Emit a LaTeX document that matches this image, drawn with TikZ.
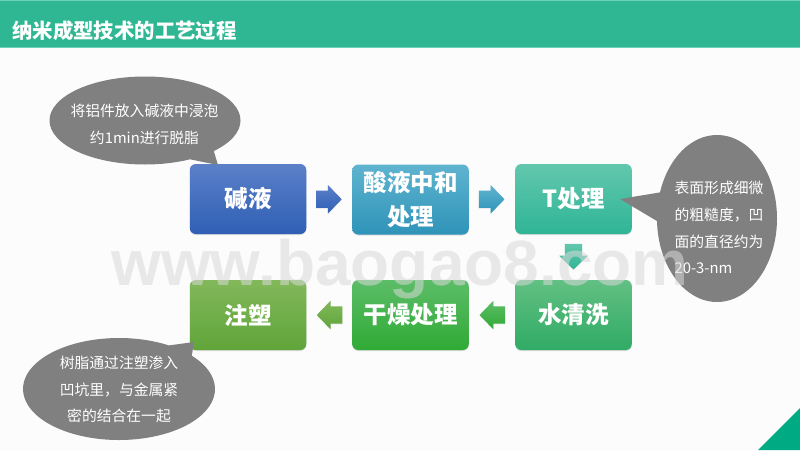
\documentclass[tikz,border=0pt]{standalone}
\usepackage{fontspec}
\setmainfont{Noto Sans CJK SC}
\newfontfamily\wmfont{Liberation Sans}
\usetikzlibrary{shapes.arrows,shapes.callouts,calc,shadows}
\definecolor{bgc}{HTML}{FCFCFC}
\definecolor{barc}{HTML}{2FB794}
\definecolor{barl}{HTML}{6FD0B8}
\definecolor{cornerc}{HTML}{00AB84}
\definecolor{calloutc}{HTML}{808080}
\definecolor{at}{RGB}{91,128,200}\definecolor{ab}{RGB}{47,95,181}
\definecolor{bt}{RGB}{95,180,207}\definecolor{bb}{RGB}{47,147,185}
\definecolor{ct}{RGB}{98,199,173}\definecolor{cb}{RGB}{47,181,150}
\definecolor{dt}{RGB}{98,192,131}\definecolor{db}{RGB}{48,171,101}
\definecolor{et}{RGB}{92,189,104}\definecolor{eb}{RGB}{48,170,53}
\definecolor{ft}{RGB}{130,184,90}\definecolor{fb}{RGB}{96,165,58}
\tikzset{
  x=1pt,y=-1pt,
  flowbox/.style={rounded corners=6pt,minimum width=116.5pt,minimum height=70pt,inner sep=0pt,
    text=white,align=center,font=\fontsize{23.5}{34}\selectfont\bfseries,
    drop shadow={shadow xshift=0pt,shadow yshift=-1pt,opacity=.25,fill=black!50}},
  flowarrow/.style={single arrow,minimum height=25.5pt,inner sep=0pt,
    single arrow head extend=5.5pt,single arrow tip angle=92,
    drop shadow={shadow xshift=0pt,shadow yshift=-.6pt,opacity=.2,fill=black!50}},
  bubble/.style={ellipse callout,fill=calloutc,inner sep=0pt},
  bubbletext/.style={text=white,font=\fontsize{14.8}{26.7}\selectfont,inner sep=0pt},
}
\begin{document}
\begin{tikzpicture}
\useasboundingbox (0,0) rectangle (800,450);
\fill[bgc] (0,0) rectangle (800,450);
\fill[barc] (0,0) rectangle (800,47);
\fill[barl] (0,0) rectangle (800,1);
\fill[barl] (0,47) rectangle (800,48);
\fill[cornerc] (800,408) -- (800,450) -- (758,450) -- cycle;
\node[anchor=base west,inner sep=0pt,text=white,font=\fontsize{20.4}{24}\selectfont\bfseries] (title) at (12,38) {纳米成型技术的工艺过程};

\node[flowbox,top color=at,bottom color=ab] (a) at (248,199) {碱液};
\node[flowbox,top color=bt,bottom color=bb] (b) at (410.5,199.5) {酸液中和\\处理};
\node[flowbox,top color=ct,bottom color=cb] (c) at (573.5,199) {T处理};
\node[flowbox,top color=dt,bottom color=db] (d) at (573.5,315) {水清洗};
\node[flowbox,top color=et,bottom color=eb] (e) at (410.5,315) {干燥处理};
\node[flowbox,top color=ft,bottom color=fb] (f) at (248,315) {注塑};

\node[flowarrow,xshift=-4.5pt,top color=at,bottom color=ab] (ab) at ($(a)!.5!(b)$) {\rule{0pt}{17pt}};
\node[flowarrow,xshift=-4.5pt,top color=bt,bottom color=bb] (bc) at ($(b)!.5!(c)$) {\rule{0pt}{17pt}};
\node[flowarrow,yshift=4.5pt,shape border rotate=270,top color=ct,bottom color=cb] (cd) at ($(c)!.5!(d)$) {\rule{17pt}{0pt}};
\node[flowarrow,xshift=4.5pt,shape border rotate=180,top color=et,bottom color=eb] (de) at ($(d)!.5!(e)$) {\rule{0pt}{17pt}};
\node[flowarrow,xshift=4.5pt,shape border rotate=180,top color=ft,bottom color=fb] (ef) at ($(e)!.5!(f)$) {\rule{0pt}{17pt}};

\coordinate (pa) at (218,165);
\coordinate (pb) at (194,342);
\coordinate (pc) at (620,199);
\node[bubble,minimum width=191pt,minimum height=88pt,callout absolute pointer={(pa)},callout pointer arc=18] (ca) at (145,120.5) {};
\node[bubble,minimum width=192pt,minimum height=102pt,callout absolute pointer={(pb)},callout pointer arc=18] (cb) at (119,389) {};
\node[bubble,minimum width=120pt,minimum height=167pt,callout absolute pointer={(pc)},callout pointer arc=20] (cc) at (717,218.5) {};

\node[bubbletext,align=center] (ta) at (144.5,124.5) {将铝件放入碱液中浸泡\\约1min进行脱脂};
\node[bubbletext,align=center] (tb) at (119,389.5) {树脂通过注塑渗入\\凹坑里，与金属紧\\密的结合在一起};
\node[bubbletext,align=left] (tc) at (719,227.5) {表面形成细微\\的粗糙度，凹\\面的直径约为\\20-3-nm};

\node[anchor=base,inner sep=0pt,text=gray!30,opacity=.55,font=\fontsize{64}{70}\selectfont\wmfont\bfseries] (wm) at (400,285) {www.baogao8.com};
\end{tikzpicture}
\end{document}
